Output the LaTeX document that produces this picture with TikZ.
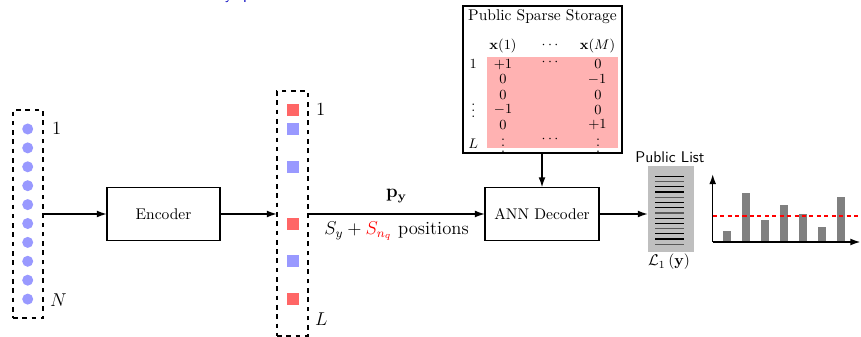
\documentclass[tikz,border=0pt]{standalone}
\usetikzlibrary{arrows.meta}
\begin{document}
\begin{tikzpicture}[x=0.645pt,y=-0.645pt,
  every node/.style={inner sep=0pt, outer sep=0pt},
  blockbox/.style={draw, line width=0.9pt, fill=white, minimum width=#1, minimum height=34.2pt},
  dashbox/.style={draw, line width=0.9pt, dashed},
  dot/.style={circle, fill=blue!40, minimum size=7.1pt},
  sqred/.style={rectangle, fill=red!60, minimum size=7.5pt},
  sqblue/.style={rectangle, fill=blue!40, minimum size=7.5pt},
  arr/.style={line width=1pt, -{Latex[length=6.5pt,width=4.4pt]}},
  cell/.style={font=\small},
  sideLabel/.style={font=\large, anchor=west},
  rowline/.style={line width=0.8pt}
]
\useasboundingbox (0,0) rectangle (861,337);

% caption running off the top edge
\node[anchor=base west, font=\sffamily, text=blue!75!black] (cap) at (225,-0.5) {y\hspace{7pt}p};

% input vector
\node[dashbox, minimum width=19.4pt, minimum height=134.2pt] (xin) at (28,214) {};
\foreach \k in {0,...,9}
  \node[dot] (c\k) at (27.7,{129+18.9*\k}) {};
\node[sideLabel] (xone) at (52,129) {$1$};
\node[sideLabel] (xN) at (50,300) {$N$};

% encoder
\node[blockbox=72.9pt] (enc) at (163.5,214) {Encoder};

% sparse code vector
\node[dashbox, minimum width=20pt, minimum height=158pt] (vp) at (292.5,213.5) {};
\node[sqred]  (s1) at (293,110) {};
\node[sqblue] (s2) at (293,129) {};
\node[sqblue] (s3) at (293,167) {};
\node[sqred]  (s4) at (293,224) {};
\node[sqblue] (s5) at (293,261) {};
\node[sqred]  (s6) at (293,299) {};
\node[sideLabel] (pone) at (316,110) {$1$};
\node[sideLabel] (pL) at (315,319) {$L$};

% ANN decoder
\node[blockbox=73.5pt] (dec) at (542,214) {ANN Decoder};

% public sparse storage
\node[draw, line width=0.9pt, minimum width=102.6pt, minimum height=94.8pt] (store) at (542.5,79.5) {};
\node (stitle) at (542.5,17) {Public Sparse Storage};
\node[fill=red!30, minimum width=84.5pt, minimum height=58.7pt] (pink) at (552.5,102.5) {};
\node[cell] (h1) at (503,46.5) {$\mathbf{x}(1)$};
\node[cell] (h2) at (550,45) {$\cdots$};
\node[cell] (h3) at (597.5,46.5) {$\mathbf{x}(M)$};
\node[cell] (r1) at (473.3,64) {$1$};
\node[cell] (rd) at (473.3,106) {$\vdots$};
\node[cell] (rL) at (473.3,143.5) {$L$};
\node[cell] (a1) at (503,64.5) {$+1$};
\node[cell] (a2) at (503,79.5) {$0$};
\node[cell] (a3) at (503,95) {$0$};
\node[cell] (a4) at (503,110) {$-1$};
\node[cell] (a5) at (503,125) {$0$};
\node[cell] (a6) at (503,141) {$\vdots$};
\node[cell] (b1) at (550,62) {$\cdots$};
\node[cell] (b6) at (550,139) {$\cdots$};
\node[cell] (d1) at (598,64.5) {$0$};
\node[cell] (d2) at (597,79.5) {$-1$};
\node[cell] (d3) at (598,95) {$0$};
\node[cell] (d4) at (598,110) {$0$};
\node[cell] (d5) at (597.5,125) {$+1$};
\node[cell] (d6) at (598,141) {$\vdots$};

% public list
\node[fill=gray!50, minimum width=29.7pt, minimum height=55.5pt] (plist) at (671,209) {};
\node[font=\sffamily] (ptitle) at (670,157) {Public List};
\foreach \k in {0,...,13} {
  \pgfmathtruncatemacro{\odd}{mod(\k,3)==1}
  \ifnum\odd=1
    \draw[rowline, black!65] (655,{176.3+5.23*\k}) -- (684,{176.3+5.23*\k});
  \else
    \draw[rowline, black] (655,{176.3+5.23*\k}) -- (684,{176.3+5.23*\k});
  \fi
}
\node (plabel) at (669,262) {$\mathcal{L}_1\left(\mathbf{y}\right)$};

% score histogram
\coordinate (orig) at (712.7,242);
\coordinate (ytip) at (712.7,174);
\coordinate (xtip) at (860.5,242);
\foreach \xl/\top in {723.3/230.7, 742.3/192.7, 761/220, 780/205, 799/214, 818/227, 837/197}
  \fill[gray] (\xl,242) rectangle ({\xl+7.6},\top);
\draw[red, line width=1.2pt, dash pattern=on 2.6pt off 2.2pt] (712.7,216) -- (861,216);
\draw[arr] (orig) -- (ytip);
\draw[arr] (orig) -- (xtip);

% connectors
\draw[arr] (xin.east) -- (enc.west);
\draw[arr] (enc.east) -- (enc.east -| vp.west);
\draw[arr] (vp.east |- dec.west) -- (dec.west)
  node[midway, above=7pt, font=\large] (py) {$\mathbf{p}_{\mathbf{y}}$}
  node[midway, below=5pt, font=\large] (pos) {$S_y + \textcolor{red}{S_{n_q}}$ positions};
\draw[arr] (store.south -| dec.north) -- (dec.north);
\draw[arr] (dec.east) -- (dec.east -| plist.west);
\end{tikzpicture}
\end{document}
